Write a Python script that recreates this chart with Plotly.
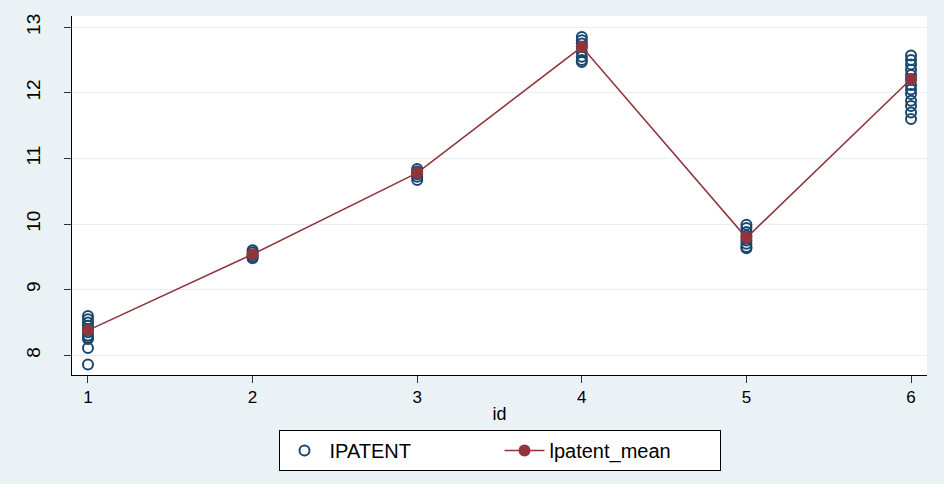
import plotly.graph_objects as go

# Data
ids = [1, 2, 3, 4, 5, 6]
ipatent_1 = [8.60, 8.55, 8.50, 8.45, 8.40, 8.35, 8.30, 8.27, 8.25, 8.11, 7.86]
ipatent_2 = [9.60, 9.57, 9.53, 9.50, 9.48]
ipatent_3 = [10.84, 10.80, 10.76, 10.72, 10.67]
ipatent_4 = [12.85, 12.80, 12.75, 12.70, 12.62, 12.55, 12.50, 12.47]
ipatent_5 = [9.99, 9.94, 9.88, 9.82, 9.75, 9.70, 9.65, 9.63]
ipatent_6 = [12.57, 12.50, 12.43, 12.35, 12.27, 12.20, 12.12, 12.05, 11.98, 11.88, 11.80, 11.70, 11.60]
lpatent_mean = [8.38, 9.54, 10.78, 12.70, 9.79, 12.21]

groups = [ipatent_1, ipatent_2, ipatent_3, ipatent_4, ipatent_5, ipatent_6]
sx, sy = [], []
for i, g in zip(ids, groups):
    sx += [i] * len(g)
    sy += g

navy = "#1a476f"
maroon = "#90353b"

fig = go.Figure()
fig.add_trace(go.Scatter(
    x=sx, y=sy, mode="markers", name="IPATENT",
    marker=dict(symbol="circle-open", size=10, color=navy, line=dict(width=2, color=navy)),
))
fig.add_trace(go.Scatter(
    x=ids, y=lpatent_mean, mode="lines+markers", name="lpatent_mean",
    line=dict(color=maroon, width=1.6),
    marker=dict(symbol="circle", size=12, color=maroon),
))

fig.update_layout(
    width=944, height=484,
    margin=dict(l=72, r=17, t=16, b=109),
    paper_bgcolor="#eaf2f5",
    plot_bgcolor="white",
    font=dict(family="Liberation Sans, Arial, sans-serif", size=16, color="black"),
    showlegend=True,
    legend=dict(
        orientation="h", x=0.5, xanchor="center", y=-0.153, yanchor="top",
        bgcolor="white", bordercolor="black", borderwidth=1,
        font=dict(size=20), itemwidth=40, entrywidth=165, entrywidthmode="pixels",
    ),
)
fig.update_xaxes(
    range=[0.903, 6.097], tickvals=ids, ticks="outside", ticklen=7, tickcolor="#333333",
    showline=True, linecolor="black", linewidth=1, showgrid=False, zeroline=False,
    title=dict(text="id", font=dict(size=18), standoff=0),
    tickfont=dict(size=17),
)
fig.update_yaxes(
    range=[7.70, 13.17], tickvals=[8, 9, 10, 11, 12, 13], ticks="outside", ticklen=7,
    tickcolor="#333333", showline=True, linecolor="black", linewidth=1,
    showgrid=True, gridcolor="#e6eef1", gridwidth=1, zeroline=False,
    tickangle=-90, tickfont=dict(size=19), ticklabelstandoff=16,
)

fig.write_html(
    "out.html",
    config={"displayModeBar": False},
    post_script="document.body.style.margin='0';document.body.style.background='#eaf2f5';",
)
